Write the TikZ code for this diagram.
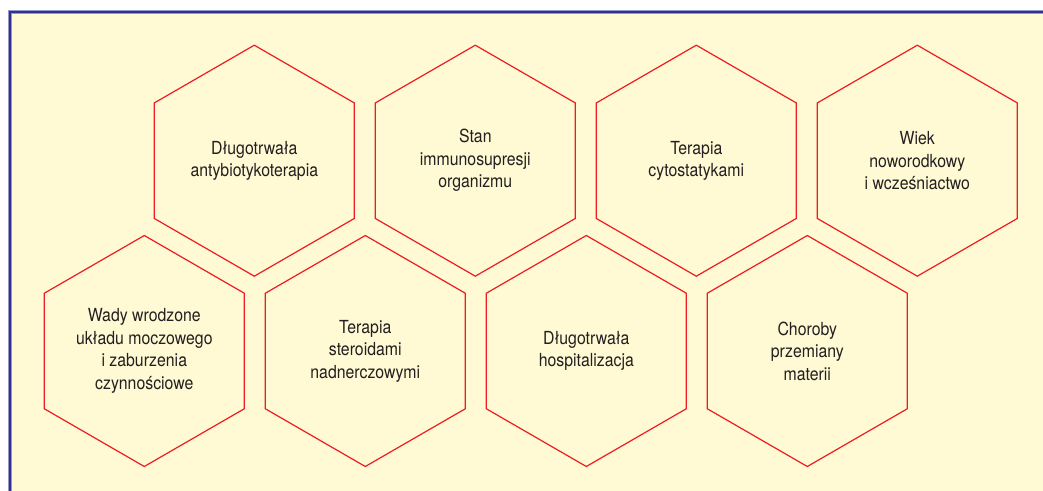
\documentclass[tikz,border=0pt]{standalone}
\usepackage{fontspec}
\setmainfont{TeX Gyre Heros}[FakeStretch=0.88]
\usetikzlibrary{shapes.geometric}

\definecolor{panelyellow}{RGB}{255,250,212}
\definecolor{frameblue}{RGB}{46,49,146}
\definecolor{framehalo}{RGB}{150,150,200}
\definecolor{hexred}{RGB}{237,28,36}
\definecolor{textblack}{RGB}{35,31,32}

\tikzset{
  hexcell/.style={regular polygon, regular polygon sides=6, shape border rotate=30,
    draw=hexred, line width=1.2pt, minimum size=231pt, inner sep=0pt, outer sep=0pt,
    align=center, text=textblack, font=\fontsize{18}{22.5}\selectfont}
}

\begin{document}
\begin{tikzpicture}[x=1pt, y=1pt]
  \useasboundingbox (0,0) rectangle (1043,490);
  \clip (0,0) rectangle (1043,490);

  % Draw panel and frame
  \fill[panelyellow] (10,-10) rectangle (1060,478);
  \draw[framehalo, line width=4pt] (10,-10) -- (10,478) -- (1060,478);
  \draw[frameblue, line width=2pt] (10,-10) -- (10,478) -- (1060,478);

  % Top row
  \node[hexcell] (antybiotyki) at (254.3,329.3) {Długotrwała\\antybiotykoterapia};
  \node[hexcell] (immuno) at (475.3,329.3) {Stan\\immunosupresji\\organizmu};
  \node[hexcell] (cytostatyki) at (696.3,329.3) {Terapia\\cytostatykami};
  \node[hexcell] (wiek) at (917.3,329.3) {Wiek\\noworodkowy\\i wcześniactwo};

  % Bottom row
  \node[hexcell] (wady) at (144.3,139) {Wady wrodzone\\układu moczowego\\i zaburzenia\\czynnościowe};
  \node[hexcell] (steroidy) at (365.3,139) {Terapia\\steroidami\\nadnerczowymi};
  \node[hexcell] (szpital) at (586.3,139) {Długotrwała\\hospitalizacja};
  \node[hexcell] (przemiana) at (807.3,139) {Choroby\\przemiany\\materii};
\end{tikzpicture}
\end{document}
